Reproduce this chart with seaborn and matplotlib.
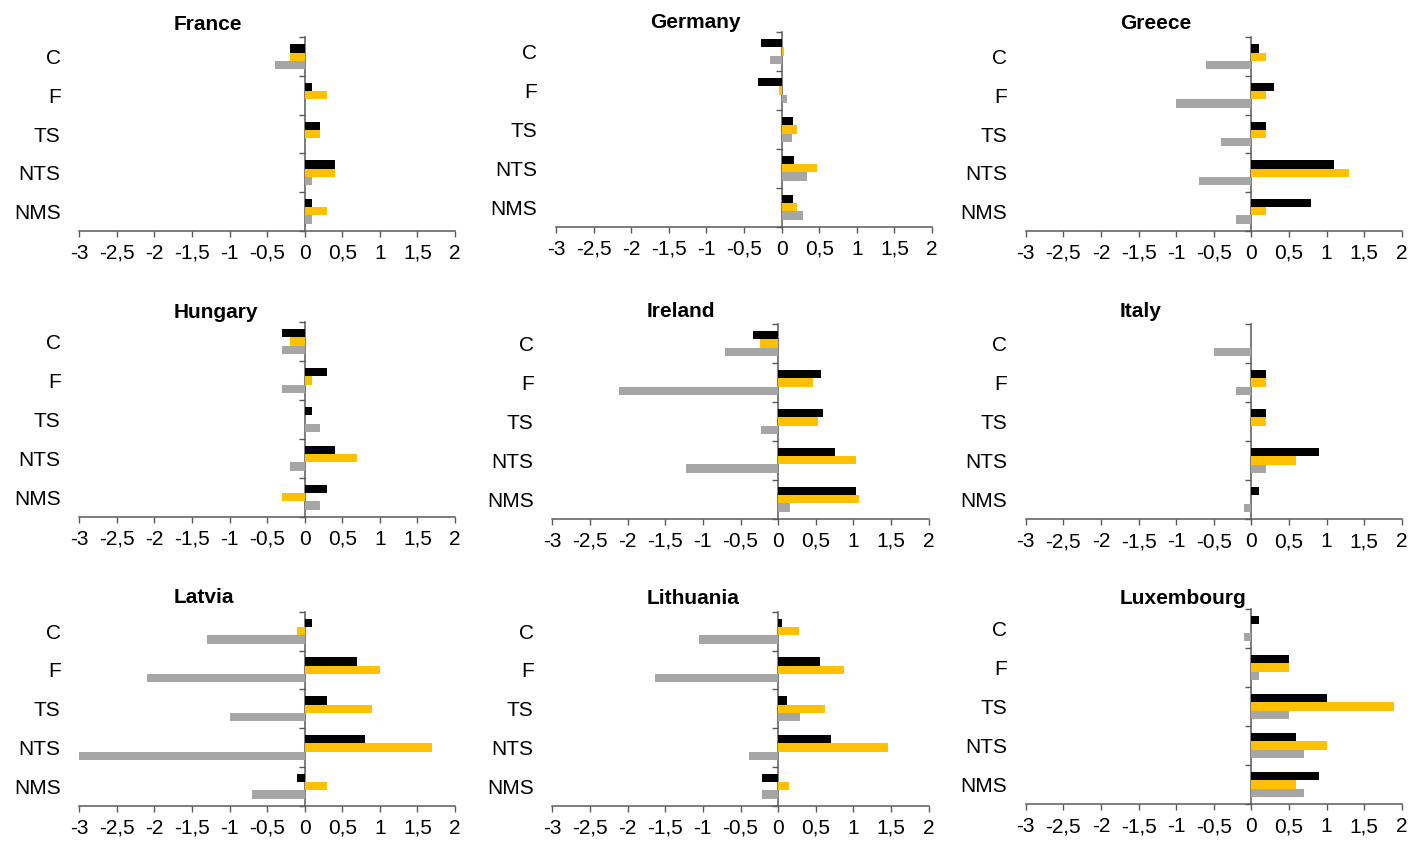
import numpy as np
import pandas as pd
import matplotlib
matplotlib.use("Agg")
import matplotlib.pyplot as plt
import seaborn as sns

# ---------------- data ----------------
countries = ["France", "Germany", "Greece", "Hungary", "Ireland", "Italy",
             "Latvia", "Lithuania", "Luxembourg"]
categories = ["C", "F", "TS", "NTS", "NMS"]
series_names = ["Series 1", "Series 2", "Series 3"]

# one row per country, one value per category
series_black = [
    [-0.20, 0.10, 0.20, 0.40, 0.10],    # France
    [-0.28, -0.32, 0.155, 0.17, 0.15],  # Germany
    [0.10, 0.30, 0.20, 1.10, 0.80],     # Greece
    [-0.30, 0.30, 0.10, 0.40, 0.30],    # Hungary
    [-0.34, 0.57, 0.59, 0.75, 1.03],    # Ireland
    [0.00, 0.20, 0.20, 0.90, 0.10],     # Italy
    [0.10, 0.70, 0.30, 0.80, -0.10],    # Latvia
    [0.05, 0.55, 0.12, 0.70, -0.22],    # Lithuania
    [0.10, 0.50, 1.00, 0.60, 0.90],     # Luxembourg
]
series_gold = [
    [-0.20, 0.30, 0.20, 0.40, 0.30],
    [0.035, -0.03, 0.20, 0.47, 0.20],
    [0.20, 0.20, 0.20, 1.30, 0.20],
    [-0.20, 0.10, 0.00, 0.70, -0.30],
    [-0.24, 0.46, 0.53, 1.04, 1.07],
    [0.00, 0.20, 0.20, 0.60, 0.00],
    [-0.10, 1.00, 0.90, 1.70, 0.30],
    [0.28, 0.88, 0.62, 1.46, 0.14],
    [0.00, 0.50, 1.90, 1.00, 0.60],
]
series_grey = [
    [-0.40, 0.00, 0.00, 0.10, 0.10],
    [-0.15, 0.07, 0.14, 0.34, 0.29],
    [-0.60, -1.00, -0.40, -0.70, -0.20],
    [-0.30, -0.30, 0.20, -0.20, 0.20],
    [-0.70, -2.12, -0.23, -1.23, 0.155],
    [-0.50, -0.20, 0.00, 0.20, -0.10],
    [-1.30, -2.10, -1.00, -3.00, -0.70],
    [-1.05, -1.63, 0.29, -0.39, -0.22],
    [-0.10, 0.10, 0.50, 0.70, 0.70],
]
x_ticks = [-3, -2.5, -2, -1.5, -1, -0.5, 0, 0.5, 1, 1.5, 2]
x_tick_labels = ["-3", "-2,5", "-2", "-1,5", "-1", "-0,5", "0", "0,5", "1", "1,5", "2"]

colors = ["#000000", "#FFC000", "#A6A6A6"]

# ---------------- layout (pixels) ----------------
W, H = 1410, 842
# left, top, right, bottom of each plot area
rects = [
    (79.3, 37.3, 455.0, 230.7),
    (556.0, 32.0, 932.0, 226.7),
    (1025.7, 37.3, 1401.7, 230.7),
    (79.3, 322.0, 455.0, 516.7),
    (552.3, 324.0, 928.7, 518.7),
    (1025.7, 324.0, 1401.7, 519.0),
    (79.3, 611.7, 455.0, 805.7),
    (552.3, 611.7, 928.7, 805.7),
    (1025.7, 609.0, 1401.7, 804.0),
]
title_baselines = [30.0, 29.3, 29.3, 318.3, 316.7, 317.3, 603.3, 604.3, 604.3]

sns.set_theme(style="white")
plt.rcParams["font.family"] = ["Liberation Sans", "DejaVu Sans"]

fig = plt.figure(figsize=(W / 100, H / 100), dpi=100)
spine_color = "#595959"
px2pt = 72 / 100
fs = 15

for i, country in enumerate(countries):
    l, t, r, b = rects[i]
    ax = fig.add_axes([l / W, 1 - b / H, (r - l) / W, (b - t) / H])

    df = pd.DataFrame({
        "category": categories * 3,
        "series": [s for s in series_names for _ in categories],
        "value": series_black[i] + series_gold[i] + series_grey[i],
    })
    sns.barplot(data=df, x="value", y="category", hue="series",
                order=categories, hue_order=series_names, palette=colors,
                orient="h", width=0.64, saturation=1, errorbar=None,
                linewidth=0, legend=False, ax=ax)

    ax.set_xlim(-3, 2)
    ax.set_ylim(len(categories) - 0.5, -0.5)
    ax.set_xlabel("")
    ax.set_ylabel("")

    ax.set_xticks(x_ticks)
    ax.set_xticklabels(x_tick_labels)
    ax.tick_params(axis="x", bottom=True, length=4.5, width=1,
                   color=spine_color, direction="out", pad=5, labelsize=fs,
                   labelcolor="black")
    ax.set_yticks(range(len(categories)))
    ax.set_yticklabels(categories)
    ax.tick_params(axis="y", left=True, length=0, pad=13.5, labelsize=fs,
                   labelcolor="black")

    for side in ["left", "top", "right"]:
        ax.spines[side].set_visible(False)
    ax.spines["bottom"].set_color(spine_color)
    ax.spines["bottom"].set_linewidth(1.1)

    # value axis line at zero with category-boundary tick marks
    zero_frac = (0 - (-3)) / 5
    sec = ax.secondary_yaxis(zero_frac)
    sec.set_alignment("left")
    sec.set_yticks(np.arange(-0.5, len(categories), 1.0))
    sec.set_yticklabels([])
    sec.tick_params(axis="y", length=4.5, width=1, color=spine_color,
                    direction="out")
    sec.spines["left"].set_color(spine_color)
    sec.spines["left"].set_linewidth(1.1)

    pad_pt = (t - title_baselines[i]) * px2pt
    ttl = ax.set_title(country, loc="left", fontsize=fs, fontweight="bold",
                       pad=pad_pt, color="black")
    ttl.set_x(0.25)

fig.savefig("out.png", dpi=100)
